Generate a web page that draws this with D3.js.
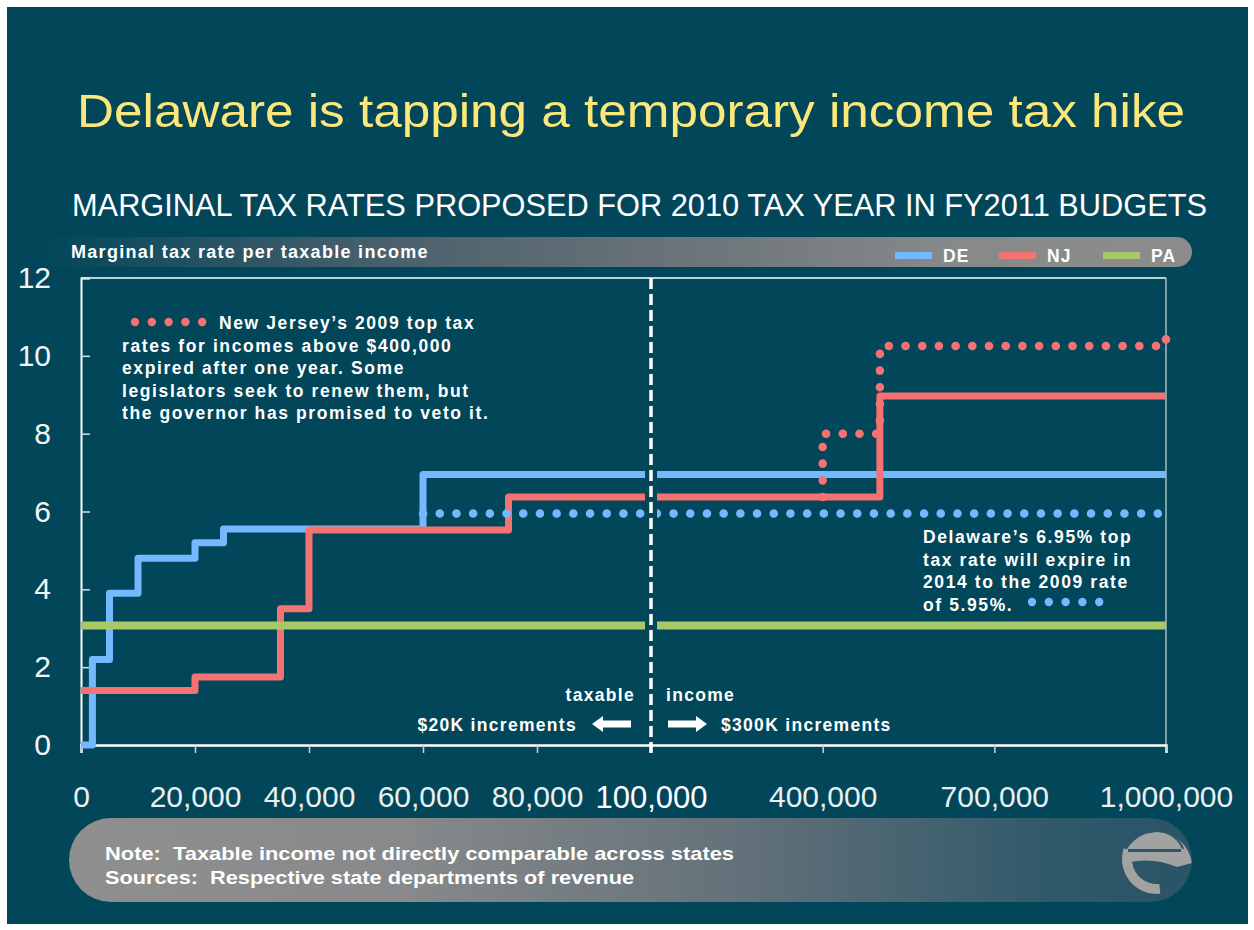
<!DOCTYPE html>
<html>
<head>
<meta charset="utf-8">
<script src="https://cdn.jsdelivr.net/npm/d3@7"></script>
<style>
  body { margin: 0; background: #fff; }
  text { font-family: 'Liberation Sans', Arial, sans-serif; white-space: pre; }
</style>
</head>
<body>
<div id="chart"></div>
<script>
/* global d3 */

// Marginal rates by taxable income (bracket start, rate %)
const deIncome = [0, 2000, 5000, 10000, 20000, 25000, 60000, 1000000]
const deRate = [0, 2.2, 3.9, 4.8, 5.2, 5.55, 6.95, 6.95]
const njIncome = [0, 20000, 35000, 40000, 75000, 500000, 1000000]
const njRate = [1.4, 1.75, 3.5, 5.525, 6.37, 8.97, 8.97]
const paIncome = [0, 1000000]
const paRate = [3.07, 3.07]

// 2009 rates (dotted)
const nj2009Income = [400000, 400000, 500000, 1000000]
const nj2009Rate = [6.37, 8.0, 10.25, 10.75]
const de2009Income = [60000, 1000000]
const de2009Rate = [5.95, 5.95]

const xTicks = [0, 20000, 40000, 60000, 80000, 100000, 400000, 700000, 1000000]
const yTicks = [0, 2, 4, 6, 8, 10, 12]
const legendNames = ['DE', 'NJ', 'PA']
const colors = { DE: '#74b8ff', NJ: '#f47272', PA: '#a8c868' }

const njNote = ['New Jersey\u2019s 2009 top tax', 'rates for incomes above $400,000',
  'expired after one year. Some', 'legislators seek to renew them, but',
  'the governor has promised to veto it.']
const deNote = ['Delaware\u2019s 6.95% top', 'tax rate will expire in',
  '2014 to the 2009 rate', 'of 5.95%.']

// Our canvas
const width = 1254,
  height = 930,
  bg = '#02465a'

const svg = d3.select('#chart')
  .append('svg')
  .attr('width', width)
  .attr('height', height)

const defs = svg.append('defs')

let grad = (id, stops) => {
  let g = defs.append('linearGradient').attr('id', id)
  stops.forEach(s => g.append('stop').attr('offset', s[0]).attr('stop-color', s[1]))
}
grad('headGrad', [[0, bg], [0.3, '#4a606c'], [0.55, '#6a7379'], [0.8, '#888a8a'], [1, '#8b8b8b']])
grad('footGrad', [[0, '#8f8f8f'], [0.3, '#87898a'], [0.6, '#63717a'], [0.88, '#2f5869'], [1, '#2a5566']])

// slide
svg.append('rect')
  .attr('x', 7).attr('y', 7)
  .attr('width', 1241).attr('height', 917)
  .attr('fill', bg)

svg.append('text')
  .attr('x', 77).attr('y', 127)
  .attr('textLength', 1108).attr('lengthAdjust', 'spacingAndGlyphs')
  .attr('font-size', 46)
  .attr('fill', '#fbe77a')
  .text('Delaware is tapping a temporary income tax hike')

svg.append('text')
  .attr('x', 72).attr('y', 216)
  .attr('textLength', 1135).attr('lengthAdjust', 'spacingAndGlyphs')
  .attr('font-size', 31)
  .attr('fill', '#fff')
  .text('MARGINAL TAX RATES PROPOSED FOR 2010 TAX YEAR IN FY2011 BUDGETS')

// header bar with legend
svg.append('rect')
  .attr('x', 40).attr('y', 237)
  .attr('width', 1152).attr('height', 30)
  .attr('rx', 15)
  .attr('fill', 'url(#headGrad)')

svg.append('text')
  .attr('x', 71).attr('y', 258)
  .attr('font-size', 18).attr('font-weight', 'bold')
  .attr('letter-spacing', 1.3)
  .attr('fill', '#fff')
  .text('Marginal tax rate per taxable income')

const legendX = d3.scalePoint().domain(legendNames).range([895, 1103])
let legend = svg.selectAll('.legend')
  .data(legendNames)
  .enter()
  .append('g')
  .attr('transform', d => `translate(${legendX(d)}, 255.5)`)
legend.append('line')
  .attr('x2', 37)
  .attr('stroke', d => colors[d])
  .attr('stroke-width', 7)
legend.append('text')
  .attr('x', 48).attr('y', 6)
  .attr('font-size', 17.5).attr('font-weight', 'bold')
  .attr('letter-spacing', 1.2)
  .attr('fill', '#fff')
  .text(d => d)

// scales: two linear pieces, $20K steps left of the break and $300K steps right
const xScale = d3.scaleLinear()
  .domain([0, 100000, 1000000])
  .range([81, 651, 1166])

const yScale = d3.scaleLinear()
  .domain([0, 12])
  .range([745, 278])

const x0 = xScale.range()[0], x1 = xScale.range()[2]
const yTop = yScale(12), yBot = yScale(0)

// frame
svg.append('line')
  .attr('x1', x0).attr('x2', x1).attr('y1', yTop).attr('y2', yTop)
  .attr('stroke', '#fff').attr('stroke-width', 1.5)
svg.append('line')
  .attr('x1', x1).attr('x2', x1).attr('y1', yTop).attr('y2', yBot)
  .attr('stroke', '#a9bcc3').attr('stroke-width', 1.5)

const yAxis = d3.axisLeft(yScale).tickValues(yTicks).tickSize(-9).tickPadding(30)
const xAxis = d3.axisBottom(xScale).tickValues(xTicks).tickSize(8).tickPadding(33)
  .tickFormat(d3.format(','))

let gy = svg.append('g')
  .attr('transform', `translate(${x0}, 0)`)
  .call(yAxis)
gy.select('.domain').attr('stroke', '#fff').attr('stroke-width', 2)
gy.selectAll('.tick line').attr('stroke', '#d6e0e4').attr('stroke-width', 1.5)
gy.selectAll('.tick text')
  .attr('font-size', 30).attr('fill', '#f2f6f7')
  .style('font-family', "'Liberation Sans', Arial, sans-serif")

let gx = svg.append('g')
  .attr('transform', `translate(0, ${yBot})`)
  .call(xAxis)
gx.select('.domain').attr('stroke', '#fff').attr('stroke-width', 2.5)
gx.selectAll('.tick line').attr('stroke', '#c9d5da').attr('stroke-width', 1.5)
gx.selectAll('.tick text')
  .attr('font-size', d => d === 100000 ? 31 : 30)
  .attr('fill', d => d === 100000 ? '#fff' : '#e9f0f2')
  .style('font-family', "'Liberation Sans', Arial, sans-serif")

// step lines
const step = d3.line()
  .x(d => xScale(d[0]))
  .y(d => yScale(d[1]))
  .curve(d3.curveStepAfter)

let series = (incomes, rates) => incomes.map((v, i) => [v, rates[i]])

let drawStep = (incomes, rates, color, w) => {
  svg.append('path')
    .datum(series(incomes, rates))
    .attr('d', step)
    .attr('fill', 'none')
    .attr('stroke', color)
    .attr('stroke-width', w)
    .attr('stroke-linejoin', 'round')
}

let drawDots = (incomes, rates, color) => {
  svg.append('path')
    .datum(series(incomes, rates))
    .attr('d', step)
    .attr('fill', 'none')
    .attr('stroke', color)
    .attr('stroke-width', 8.5)
    .attr('stroke-linecap', 'round')
    .attr('stroke-dasharray', '0.1 16.6')
}

drawStep(deIncome, deRate, colors.DE, 7)
drawStep(njIncome, njRate, colors.NJ, 7)
drawStep(paIncome, paRate, colors.PA, 8)
drawDots(de2009Income, de2009Rate, colors.DE)
drawDots(nj2009Income, nj2009Rate, colors.NJ)

// break between the two income scales
const xb = xScale(100000)
svg.append('rect')
  .attr('x', xb - 6).attr('y', yTop + 2)
  .attr('width', 12).attr('height', yBot - yTop - 3)
  .attr('fill', bg)
svg.append('line')
  .attr('x1', xb).attr('x2', xb)
  .attr('y1', yTop).attr('y2', yBot + 8)
  .attr('stroke', '#fff')
  .attr('stroke-width', 3.5)
  .attr('stroke-dasharray', '11 5')

// notes
let note = (lines, x, y, firstIndent) => {
  let t = svg.append('text')
    .attr('font-size', 17.5).attr('font-weight', 'bold')
    .attr('letter-spacing', 1.6)
    .attr('fill', '#fff')
  lines.forEach((l, i) => {
    t.append('tspan')
      .attr('x', i === 0 && firstIndent ? firstIndent : x)
      .attr('y', y + i * 22.5)
      .text(l)
  })
}
note(njNote, 122, 329, 219)
note(deNote, 923, 543)

let dotRow = (x, y, color) => {
  svg.append('g').selectAll('circle')
    .data(d3.range(5))
    .enter()
    .append('circle')
    .attr('cx', i => x + i * 16.8)
    .attr('cy', y)
    .attr('r', 4.2)
    .attr('fill', color)
}
dotRow(135, 322, colors.NJ)
dotRow(1032, 602, colors.DE)

// scale hint under the plot
let label = (txt, x, y, anchor) => {
  svg.append('text')
    .attr('x', x).attr('y', y)
    .attr('text-anchor', anchor)
    .attr('font-size', 17.5).attr('font-weight', 'bold')
    .attr('letter-spacing', 1.3)
    .attr('fill', '#fff')
    .text(txt)
}
label('taxable', xb - 16, 701, 'end')
label('income', xb + 15, 701, 'start')
label('$20K increments', xb - 74, 731, 'end')
label('$300K increments', xb + 70, 731, 'start')

let arrow = (tip, dir) => {
  const ay = 724
  let p = d3.path()
  p.moveTo(tip, ay)
  p.lineTo(tip + dir * 11, ay - 8)
  p.lineTo(tip + dir * 11, ay - 3.5)
  p.lineTo(tip + dir * 39, ay - 3.5)
  p.lineTo(tip + dir * 39, ay + 3.5)
  p.lineTo(tip + dir * 11, ay + 3.5)
  p.lineTo(tip + dir * 11, ay + 8)
  p.closePath()
  svg.append('path').attr('d', p.toString()).attr('fill', '#fff')
}
arrow(xb - 59, 1)
arrow(xb + 56, -1)

// footer
svg.append('rect')
  .attr('x', 69).attr('y', 818)
  .attr('width', 1123).attr('height', 84)
  .attr('rx', 42)
  .attr('fill', 'url(#footGrad)')

svg.append('text')
  .attr('x', 105).attr('y', 860)
  .attr('textLength', 629).attr('lengthAdjust', 'spacingAndGlyphs')
  .attr('font-size', 19).attr('font-weight', 'bold')
  .attr('fill', '#fff')
  .text('Note:  Taxable income not directly comparable across states')
svg.append('text')
  .attr('x', 105).attr('y', 884)
  .attr('textLength', 529).attr('lengthAdjust', 'spacingAndGlyphs')
  .attr('font-size', 19).attr('font-weight', 'bold')
  .attr('fill', '#fff')
  .text('Sources:  Respective state departments of revenue')

// logo
const logo = svg.append('g').attr('transform', 'translate(1157, 859)')
const gray = '#a2a2a2', dark = '#2c5667'
logo.append('path')
  .attr('d', 'M -34.77 4 A 35 35 0 0 1 34.77 4 L 20 8 Q 0 0 -20 2 Z')
  .attr('fill', gray)
logo.append('path')
  .attr('d', d3.arc().innerRadius(25).outerRadius(35)
    .startAngle(Math.PI * 0.97).endAngle(Math.PI * 1.6)())
  .attr('fill', gray)
logo.append('rect')
  .attr('x', -29).attr('y', -10)
  .attr('width', 53).attr('height', 3)
  .attr('fill', dark)
logo.append('path')
  .attr('d', d3.arc().innerRadius(27).outerRadius(29)
    .startAngle(-0.3).endAngle(1.2)())
  .attr('fill', dark)
</script>
</body>
</html>
